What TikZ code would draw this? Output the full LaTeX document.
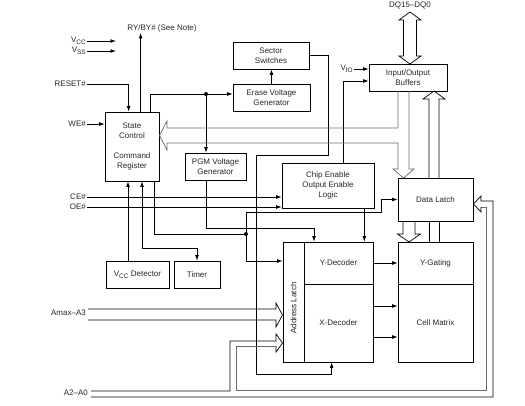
\documentclass[tikz,border=0pt]{standalone}
\usepackage{fontspec}
\setmainfont{Liberation Sans}
\usetikzlibrary{arrows.meta,positioning,calc}
\definecolor{busgray}{gray}{0.42}
\definecolor{inkgray}{gray}{0.15}
\newcommand{\vsub}[1]{\raisebox{-1.8pt}{\fontsize{6.5}{7}\selectfont #1}}

\begin{document}
\begin{tikzpicture}[x=1pt,y=-1pt,font=\fontsize{8}{10}\selectfont,
    blk/.style={draw,line width=0.7pt,inner sep=0pt,align=center,text=inkgray},
    pin/.style={inner sep=1pt,text=inkgray},
    sig/.style={line width=0.7pt},
    arr/.style={sig,-{Latex[length=5.5pt,width=3.8pt]}},
    bus/.style={line width=0.75pt,draw=busgray}]
      \useasboundingbox (0,0) rectangle (525,405);
      % blocks
      \node[blk,minimum width=54,minimum height=69] (ctrl) at (132,146.5)
        {State\\Control\\[10pt]Command\\Register};
      \node[blk,minimum width=76,minimum height=27] (sector) at (271,55.5) {Sector\\Switches};
      \node[blk,minimum width=77,minimum height=27] (erase) at (271.5,97.5) {Erase Voltage\\Generator};
      \node[blk,minimum width=61,minimum height=27] (pgm) at (215.5,166.5) {PGM Voltage\\Generator};
      \node[blk,minimum width=92,minimum height=45] (ceoe) at (328,185.5)
        {Chip Enable\\Output Enable\\Logic};
      \node[blk,minimum width=78,minimum height=27] (iobuf) at (408,77.5) {Input/Output\\Buffers};
      \node[blk,minimum width=75,minimum height=43] (dlatch) at (435.5,199.5) {Data Latch};
      \node[blk,minimum width=63,minimum height=27] (vccdet) at (137.5,274.5) {V\vsub{CC} Detector};
      \node[blk,minimum width=46,minimum height=27] (timer) at (197,274.5) {Timer};
      \node[blk,minimum width=21,minimum height=120] (alatch) at (293.5,302) {};
      \node[blk,minimum width=69,minimum height=42] (ydec) at (338.5,263) {Y-Decoder};
      \node[blk,minimum width=69,minimum height=78] (xdec) at (338.5,323) {X-Decoder};
      \node[blk,minimum width=75,minimum height=42] (ygate) at (435.5,263) {Y-Gating};
      \node[blk,minimum width=75,minimum height=78] (cellm) at (435.5,323) {Cell Matrix};
      \node[pin,rotate=90] (altext) at (293.5,308) {Address Latch};
      % pins
      \node[pin,anchor=east] (vcc) at (87,41) {V\vsub{CC}};
      \node[pin,anchor=east] (vss) at (87,51) {V\vsub{SS}};
      \node[pin,anchor=east] (reset) at (87,84) {RESET\#};
      \node[pin,anchor=east] (we) at (87,124) {WE\#};
      \node[pin,anchor=east] (ce) at (87,197) {CE\#};
      \node[pin,anchor=east] (oe) at (87,207) {OE\#};
      \node[pin,anchor=east] (amax) at (87,313) {Amax--A3};
      \node[pin,anchor=east] (alow) at (89,393) {A2--A0};
      \node[pin] (ryby) at (162,28) {RY/BY\# (See Note)};
      \node[pin,anchor=east] (vio) at (354,69) {V\vsub{IO}};
      \node[pin] (dq) at (410,5) {DQ15--DQ0};
      % bends and taps
      \coordinate (vccend) at (116,41);
      \coordinate (vssend) at (116,51);
      \coordinate (tapA) at (206,94);
      \coordinate (tapB) at (246,234);
      \coordinate (secR) at (328,155);
      \coordinate (secL) at (256,374);
      \coordinate (pgmbend) at (314,228);
      \coordinate (dlbend) at (381,212);
      \coordinate (albend) at (246,261);
      \coordinate (tmbend) at (142,248);
      % control lines
      \draw[arr] (vcc.east) -- (vccend);
      \draw[arr] (vss.east) -- (vssend);
      \draw[arr] (reset.east) -| ([xshift=24pt]ctrl.north west);
      \draw[arr] (we.east) -- (we.east -| ctrl.west);
      \draw[arr] ([xshift=36pt]ctrl.north west) -- ([xshift=36pt]ctrl.north west |- ryby.south);
      \draw[sig] ([xshift=46pt]ctrl.north west) |- (tapA);
      \draw[arr] (tapA) -- (tapA -| erase.west);
      \draw[arr] (tapA) -- (tapA |- pgm.north);
      \fill (tapA) circle (2);
      \draw[arr] (erase.north) -- (erase.north |- sector.south);
      \draw[arr] (sector.east) -| (secR) -| (secL) -| ([xshift=28pt]xdec.south west);
      \draw[arr] ([xshift=62pt]ceoe.north west) |- ([yshift=-3.5pt]iobuf.west);
      \draw[arr] (vio.east) -- (vio.east -| iobuf.west);
      \draw[arr] (ce.east) -- (ce.east -| ceoe.west);
      \draw[arr] (oe.east) -- (oe.east -| ceoe.west);
      \draw[arr] (tapA |- pgm.south) |- (pgmbend) -- (pgmbend |- ydec.north);
      \draw[arr] ([xshift=-10pt]ceoe.south east) -- ([xshift=-10pt]ceoe.south east |- ydec.north);
      \draw[sig] ([xshift=-5pt]ctrl.south east) |- (tapB);
      \draw[arr] (tapB) |- (dlbend) |- (dlatch.west);
      \draw[arr] (tapB) -- (albend) -- (albend -| alatch.west);
      \fill (tapB) circle (2);
      \draw[arr] ([xshift=-9.5pt]vccdet.north) -- ([xshift=-9.5pt]vccdet.north |- ctrl.south);
      \draw[arr] (tmbend) -- (tmbend |- ctrl.south);
      \draw[arr] (tmbend) -| (timer.north);
      \draw[arr] (ydec.east) -- (ygate.west);
      \draw[arr] ([yshift=17pt]xdec.east) -- ([yshift=17pt]cellm.west);
      \draw[arr] ([yshift=-14pt]xdec.east) -- ([yshift=-14pt]cellm.west);
      % data buses
      \draw[sig] (410,12) -- (421,20) -- (416.5,20) -- (416.5,56) -- (421,56) -- (410,64)
        -- (399,56) -- (403.5,56) -- (403.5,20) -- (399,20) -- cycle;
      \draw[bus] (398,91) |- (167,128) -- (167,121) -- (159.5,135.5) -- (167,150) -- (167,143)
        -| (398,169) -- (393,169) -- (403.5,178) -- (414,169) -- (409,169) -- (409,91);
      \draw[sig] (429,242) -- (429,221) (439,221) -- (439,242);
      \draw[sig] (429,178) -- (429,99) -- (423,99) -- (434,91) -- (445,99) -- (439,99) -- (439,178);
      \draw[sig] (403,221) -- (403,234) -- (397.5,234) -- (409,242) -- (420.5,234) -- (415,234) -- (415,221);
      % address buses
      \draw[sig] (88,309) -- (276,309) -- (276,303) -- (282.5,315) -- (276,327) -- (276,320) -- (88,320);
      \draw[sig] (91,391) -- (230,391) -- (230,341) -- (276,341) -- (276,334) -- (282.5,343)
        -- (276,352) -- (276,346);
      \draw[bus] (276,346) -- (236,346) -- (236,390) -- (486,390) -- (486,207) -- (481,207);
      \draw[sig] (481,207) -- (481,212) -- (473.5,204) -- (481,196) -- (481,201) -- (493,201)
        -- (493,397) -- (91,397);
    \end{tikzpicture}
\end{document}
